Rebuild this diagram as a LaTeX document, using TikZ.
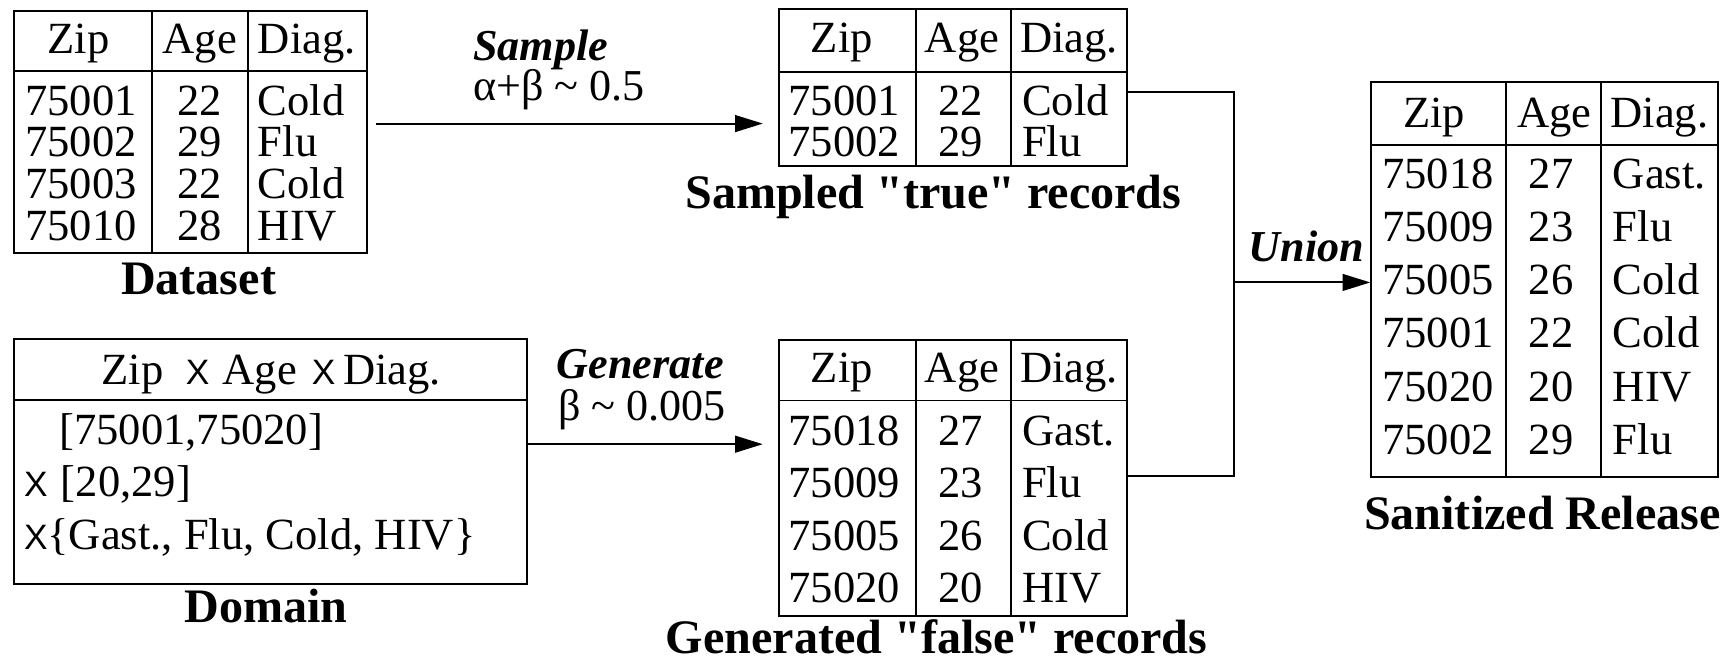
\documentclass[tikz,border=0pt]{standalone}
\usepackage{fontspec}
\setmainfont{Liberation Serif}
\newfontfamily\crossfont{Liberation Sans}
\usetikzlibrary{arrows.meta}
% small sans-serif cross used for the Cartesian product
\newcommand\crossx{{\fontsize{8}{9}\crossfont X}}
\begin{document}
\begin{tikzpicture}[x=0.25pt,y=-0.25pt,
  tbl/.style={draw, line width=0.45pt, inner sep=0pt, anchor=north west},
  link/.style={line width=0.45pt},
  flow/.style={line width=0.45pt, -{Triangle[length=6.3pt,width=3.8pt]}},
  cell/.style={inner sep=0pt, font=\fontsize{10.1}{12}\selectfont},
  ttl/.style={inner sep=0pt, anchor=base, font=\fontsize{10.9}{13}\selectfont\bfseries},
  op/.style={inner sep=0pt, anchor=base west, font=\fontsize{10}{12}\selectfont\bfseries\itshape},
  opval/.style={inner sep=0pt, anchor=base west, font=\fontsize{10}{12}\selectfont}]
\useasboundingbox (0,0) rectangle (1568,597);

% ---------- Dataset ----------
\node[tbl, minimum width=79.875pt, minimum height=54.75pt] (ds) at (12,9) {};
\draw[link] (12,64) -- (331.5,64);
\draw[link] (137.5,9) -- (137.5,228);
\draw[link] (225,9) -- (225,228);
\node[cell,anchor=base] (ds-hz) at (71,48.4) {Zip};
\node[cell,anchor=base] (ds-ha) at (181,48.4) {Age};
\node[cell,anchor=base] (ds-hd) at (278,48.4) {Diag.};
\foreach \z/\a/\d [count=\i] in {75001/22/Cold,75002/29/Flu,75003/22/Cold,75010/28/HIV}{
  \node[cell,anchor=base west] (ds-z\i) at (22,{104.3+37.8*(\i-1)}) {\z};
  \node[cell,anchor=base] (ds-a\i) at (181,{104.3+37.8*(\i-1)}) {\a};
  \node[cell,anchor=base west] (ds-d\i) at (233,{104.3+37.8*(\i-1)}) {\d};
}
\node[ttl] (ds-t) at (180,266.5) {Dataset};

% ---------- Domain ----------
\node[tbl, minimum width=116.25pt, minimum height=55.5pt] (dm) at (12,306) {};
\draw[link] (12,362.5) -- (477,362.5);
\node[cell,anchor=base] (dm-h) at (246,348.7)
  {Zip\hspace{0.5em}\crossx\hspace{0.3em}Age\hspace{0.33em}\crossx\hspace{0.18em}Diag.};
\node[cell,anchor=base west] (dm-1) at (53,403) {[75001,75020]};
\node[cell,anchor=base west] (dm-2) at (21,450) {\crossx\hspace{0.3em}[20,29]};
\node[cell,anchor=base west] (dm-3) at (21,498) {\crossx\{Gast., Flu, Cold, HIV\}};
\node[ttl] (dm-t) at (241,564.5) {Domain};

% ---------- Sampled "true" records ----------
\node[tbl, minimum width=79pt, minimum height=35.75pt] (st) at (705,7) {};
\draw[link] (705,65) -- (1021,65);
\draw[link] (830,7) -- (830,150);
\draw[link] (916,7) -- (916,150);
\node[cell,anchor=base] (st-hz) at (763,47.7) {Zip};
\node[cell,anchor=base] (st-ha) at (872,47.7) {Age};
\node[cell,anchor=base] (st-hd) at (969,47.7) {Diag.};
\foreach \z/\a/\d [count=\i] in {75001/22/Cold,75002/29/Flu}{
  \node[cell,anchor=base west] (st-z\i) at (714,{104.3+37.4*(\i-1)}) {\z};
  \node[cell,anchor=base] (st-a\i) at (871,{104.3+37.4*(\i-1)}) {\a};
  \node[cell,anchor=base west] (st-d\i) at (925.6,{104.3+37.4*(\i-1)}) {\d};
}
\node[ttl] (st-t) at (846,189) {Sampled \textquotedbl true\textquotedbl{} records};

% ---------- Generated "false" records ----------
\node[tbl, minimum width=79pt, minimum height=62.5pt] (gt) at (705,307) {};
\draw[link] (705,363) -- (1021,363);
\draw[link] (830,307) -- (830,557);
\draw[link] (916,307) -- (916,557);
\node[cell,anchor=base] (gt-hz) at (763,346.7) {Zip};
\node[cell,anchor=base] (gt-ha) at (872,346.7) {Age};
\node[cell,anchor=base] (gt-hd) at (969,346.7) {Diag.};
\foreach \z/\a/\d [count=\i] in {75018/27/Gast.,75009/23/Flu,75005/26/Cold,75020/20/HIV}{
  \node[cell,anchor=base west] (gt-z\i) at (714,{403.7+47.5*(\i-1)}) {\z};
  \node[cell,anchor=base] (gt-a\i) at (871,{403.7+47.5*(\i-1)}) {\a};
  \node[cell,anchor=base west] (gt-d\i) at (925.6,{403.7+47.5*(\i-1)}) {\d};
}
\node[ttl] (gt-t) at (849,592) {Generated \textquotedbl false\textquotedbl{} records};

% ---------- Sanitized Release ----------
\node[tbl, minimum width=78.5pt, minimum height=89.375pt] (rt) at (1242,73.5) {};
\draw[link] (1242,131.5) -- (1556,131.5);
\draw[link] (1365,73.5) -- (1365,431);
\draw[link] (1451,73.5) -- (1451,431);
\node[cell,anchor=base] (rt-hz) at (1300,115.7) {Zip};
\node[cell,anchor=base] (rt-ha) at (1409,115.7) {Age};
\node[cell,anchor=base] (rt-hd) at (1504,115.7) {Diag.};
\foreach \z/\a/\d [count=\i] in {75018/27/Gast.,75009/23/Flu,75005/26/Cold,75001/22/Cold,75020/20/HIV,75002/29/Flu}{
  \node[cell,anchor=base west] (rt-z\i) at (1252,{170.7+48.2*(\i-1)}) {\z};
  \node[cell,anchor=base] (rt-a\i) at (1406,{170.7+48.2*(\i-1)}) {\a};
  \node[cell,anchor=base west] (rt-d\i) at (1461,{170.7+48.2*(\i-1)}) {\d};
}
\node[ttl] (rt-t) at (1398,480) {Sanitized Release};

% ---------- operations ----------
\coordinate (sa) at (340.5,112);
\draw[flow] (sa) -- ([xshift=-3.4pt]st.west |- sa);
\node[op] (op-s) at (428,55) {Sample};
\node[opval] (op-s2) at (428,91) {α+β \textasciitilde{} 0.5};

\coordinate (ga) at (477,402.6);
\draw[flow] (dm.east |- ga) -- ([xshift=-3.4pt]gt.west |- ga);
\node[op] (op-g) at (504,343) {Generate};
\node[opval] (op-g2) at (505,381) {β \textasciitilde{} 0.005};

\coordinate (sj) at (1118,83);
\coordinate (gj) at (1118,431);
\coordinate (uj) at (1118,256);
\draw[link] (st.east |- sj) -- (sj) -- (gj) -- (gt.east |- gj);
\draw[flow] (uj) -- (rt.west |- uj);
\node[op] (op-u) at (1131,237) {Union};
\end{tikzpicture}
\end{document}
